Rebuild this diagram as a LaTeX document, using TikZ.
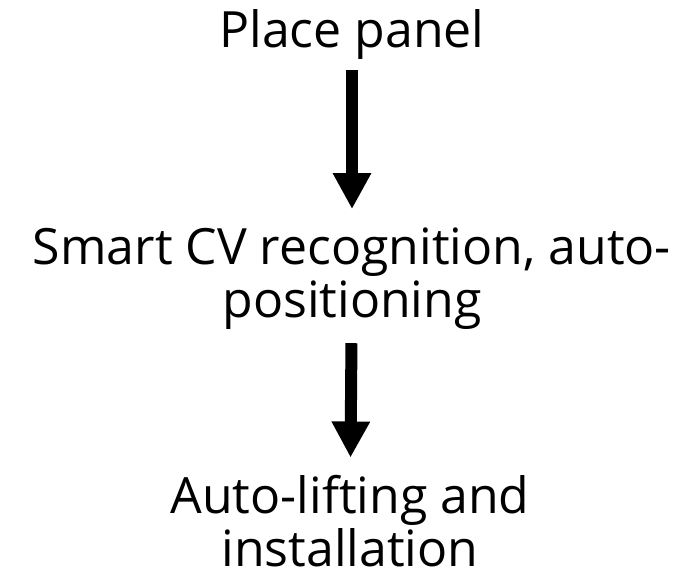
\documentclass[tikz,border=0pt]{standalone}
\usepackage{fontspec}
\setmainfont{Open Sans}
\usetikzlibrary{arrows.meta, positioning}
\tikzset{
  stage/.style={align=center, inner sep=0pt, anchor=base, font=\fontsize{50}{53}\selectfont},
  flow/.style={line width=12pt, -{Triangle[length=36pt, width=36pt]}},
}

\begin{document}
\begin{tikzpicture}[x=1pt, y=-1pt]
  \useasboundingbox (0,0) rectangle (697,578);

  % the three stages, top to bottom (base = last line)
  \node[stage] (place) at (352,48) {Place panel};
  \node[stage] (recog) at (352,317) {Smart CV recognition, auto-\\positioning};
  \node[stage] (lift) at (350,566) {Auto-lifting and\\installation};

  % arrows between them
  \draw[flow, shorten <=10pt, shorten >=18pt] (place) -- (recog);
  \draw[flow, shorten <=14pt, shorten >=17pt] (recog) -- (lift);
\end{tikzpicture}
\end{document}
